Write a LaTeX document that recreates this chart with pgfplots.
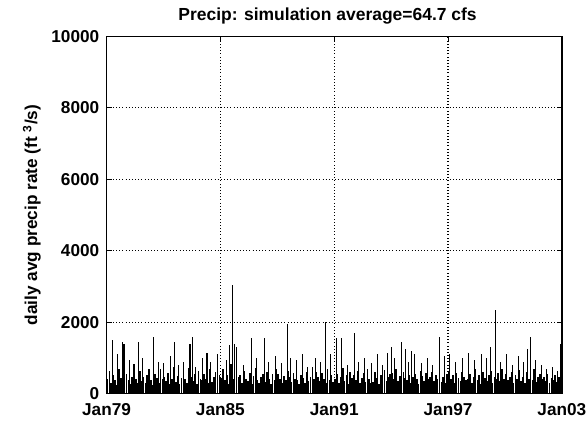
\documentclass[border=0pt]{standalone}
\usepackage{fontspec}
\setmainfont{Liberation Sans}
\usepackage{pgfplots}
\pgfplotsset{compat=1.18}
\usepackage{pgfplotstable}
\pgfplotstableread{
x y
1979.05 420
1979.15 650
1979.25 300
1979.35 520
1979.45 380
1979.55 250
1979.65 700
1979.75 450
1979.85 330
1979.95 600
1980.05 550
1980.15 380
1980.25 260
1980.35 480
1980.45 820
1980.55 400
1980.65 300
1980.75 640
1980.85 350
1980.95 470
1981.05 300
1981.15 520
1981.25 700
1981.35 380
1981.45 240
1981.55 560
1981.65 430
1981.75 310
1981.85 680
1981.95 400
1982.05 480
1982.15 350
1982.25 590
1982.35 270
1982.45 420
1982.55 760
1982.65 330
1982.75 510
1982.85 280
1982.95 450
1983.05 620
1983.15 400
1983.25 300
1983.35 720
1983.45 460
1983.55 350
1983.65 540
1983.75 280
1983.85 650
1983.95 420
1984.05 380
1984.15 560
1984.25 420
1984.35 290
1984.45 700
1984.55 340
1984.65 480
1984.75 610
1984.85 300
1984.95 520
1985.05 450
1985.15 700
1985.25 380
1985.35 520
1985.45 260
1985.55 840
1985.65 400
1985.75 560
1985.85 330
1985.95 480
1986.05 520
1986.15 300
1986.25 640
1986.35 420
1986.45 350
1986.55 580
1986.65 270
1986.75 490
1986.85 720
1986.95 380
1987.05 300
1987.15 480
1987.25 560
1987.35 330
1987.45 620
1987.55 410
1987.65 260
1987.75 540
1987.85 380
1987.95 690
1988.05 560
1988.15 420
1988.25 300
1988.35 510
1988.45 380
1988.55 650
1988.65 470
1988.75 320
1988.85 580
1988.95 400
1989.05 380
1989.15 270
1989.25 520
1989.35 440
1989.45 300
1989.55 600
1989.65 350
1989.75 480
1989.85 760
1989.95 420
1990.05 620
1990.15 480
1990.25 350
1990.35 570
1990.45 420
1990.55 300
1990.65 680
1990.75 390
1990.85 520
1990.95 340
1991.05 400
1991.15 560
1991.25 300
1991.35 480
1991.45 720
1991.55 360
1991.65 520
1991.75 280
1991.85 610
1991.95 450
1992.05 520
1992.15 380
1992.25 640
1992.35 300
1992.45 450
1992.55 580
1992.65 340
1992.75 700
1992.85 420
1992.95 310
1993.05 340
1993.15 600
1993.25 450
1993.35 280
1993.45 520
1993.55 400
1993.65 660
1993.75 350
1993.85 480
1993.95 560
1994.05 580
1994.15 420
1994.25 700
1994.35 360
1994.45 500
1994.55 300
1994.65 620
1994.75 440
1994.85 380
1994.95 520
1995.05 300
1995.15 480
1995.25 560
1995.35 400
1995.45 270
1995.55 640
1995.65 500
1995.75 350
1995.85 590
1995.95 420
1996.05 460
1996.15 620
1996.25 350
1996.35 520
1996.45 400
1996.55 760
1996.65 330
1996.75 480
1996.85 300
1996.95 560
1997.05 650
1997.15 400
1997.25 520
1997.35 300
1997.45 580
1997.55 430
1997.65 350
1997.75 620
1997.85 460
1997.95 380
1998.05 420
1998.15 560
1998.25 300
1998.35 480
1998.45 690
1998.55 380
1998.65 520
1998.75 270
1998.85 600
1998.95 440
1999.05 360
1999.15 520
1999.25 640
1999.35 300
1999.45 480
1999.55 420
1999.65 580
1999.75 350
1999.85 700
1999.95 400
2000.05 540
2000.15 380
2000.25 460
2000.35 620
2000.45 300
2000.55 520
2000.65 400
2000.75 660
2000.85 350
2000.95 480
2001.05 300
2001.15 600
2001.25 420
2001.35 520
2001.45 380
2001.55 700
2001.65 330
2001.75 470
2001.85 560
2001.95 400
2002.05 480
2002.15 350
2002.25 560
2002.35 300
2002.45 440
2002.55 380
2002.65 520
2002.75 320
2002.85 460
2002.95 600
}\base
\pgfplotstableread{
x y
1979.30 900
1979.60 1100
1979.88 800
1980.20 950
1980.45 750
1980.90 1000
1981.20 700
1981.75 900
1982.00 850
1982.35 1050
1982.80 800
1983.05 900
1983.40 1100
1983.70 750
1984.05 1000
1984.50 900
1984.85 1100
1985.30 950
1985.75 1400
1985.85 1300
1986.20 800
1986.90 1000
1987.55 900
1987.90 1050
1988.20 850
1988.70 1000
1989.00 950
1989.35 1100
1989.60 750
1990.00 1000
1990.30 900
1990.80 1100
1991.40 950
1991.70 800
1992.30 900
1992.60 1000
1992.95 850
1993.30 1100
1993.55 800
1993.80 1150
1994.20 1000
1994.90 900
1995.05 1200
1995.25 1100
1995.60 850
1995.90 1000
1996.20 800
1996.80 1050
1997.10 1100
1997.40 900
1997.75 1000
1998.10 1150
1998.40 950
1998.75 1100
1999.05 1000
1999.75 900
2000.10 1100
2000.40 800
2000.70 1050
2001.00 900
2001.60 950
2001.90 800
2002.20 700
2002.50 750
2002.75 650
}\mid
\pgfplotstableread{
x y
1979.31 1500
1979.85 1450
1979.92 1400
1980.67 1450
1981.46 1600
1982.60 1450
1983.40 1400
1983.55 1600
1984.30 1150
1985.50 1360
1985.65 3050
1986.63 1550
1987.31 1550
1988.52 1960
1990.56 2000
1991.13 1550
1991.39 1550
1992.07 1700
1994.00 1300
1994.53 1450
1994.74 1250
1996.57 1600
1999.24 1300
1999.50 2330
2001.17 1250
2001.33 1600
2002.95 1400
}\peaks
\begin{document}
\begin{tikzpicture}
\begin{axis}[
  scale only axis,
  width=344pt, height=270pt,
  xmin=1979, xmax=2003, ymin=0, ymax=10000,
  xtick={1979,1985,1991,1997,2003},
  xticklabels={Jan79,Jan85,Jan91,Jan97,Jan03},
  ytick={0,2000,4000,6000,8000,10000},
  scaled y ticks=false,
  /pgf/number format/fixed,
  /pgf/number format/1000 sep={},
  /pgf/number format/assume math mode=true,
  tick label style={font=\fontsize{13}{14}\selectfont\bfseries},
  tick align=inside,
  major tick length=4pt,
  xticklabel style={yshift=-3.5pt},
  yticklabel style={xshift=-2pt},
  grid=major,
  major grid style={black, dotted, line width=0.9pt},
  axis line style={line width=1pt},
  every tick/.style={black, line width=0.8pt},
]
\addplot[ycomb, black, line width=1.3pt, mark=none] table[x=x,y=y] {\base};
\addplot[ycomb, black, line width=0.7pt, mark=none] table[x=x,y=y] {\mid};
\addplot[ycomb, black, line width=0.9pt, mark=none] table[x=x,y=y] {\peaks};
\end{axis}
\node[anchor=base, font=\fontsize{13.2}{15}\selectfont\bfseries]
  at ([xshift=-5pt,yshift=11.7pt]current axis.north) {Precip: simulation average=64.7 cfs};
\node[rotate=90, font=\fontsize{13}{14}\selectfont\bfseries]
  at ([xshift=-56.5pt]current axis.west) {daily avg precip rate (ft \textsuperscript{3}/s)};
\pgfresetboundingbox
\path ([xshift=-80.5pt,yshift=-22.6pt]current axis.south west) rectangle ([xshift=19pt,yshift=27.5pt]current axis.north east);
\end{tikzpicture}
\end{document}
